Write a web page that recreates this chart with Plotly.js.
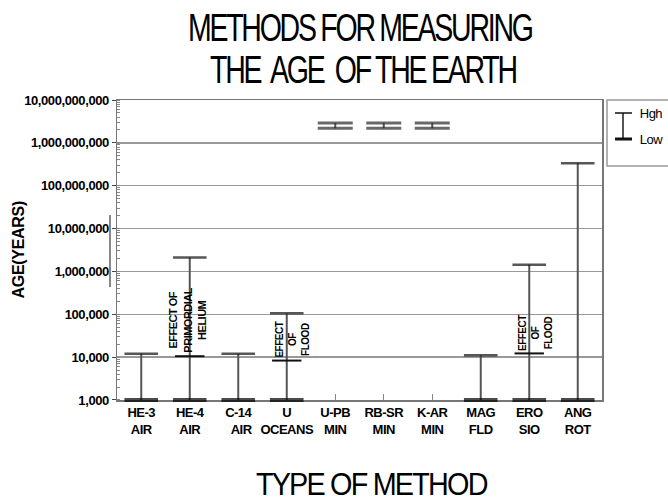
<!DOCTYPE html>
<html>
<head>
<meta charset="utf-8">
<script src="https://cdn.plot.ly/plotly-3.0.1.min.js"></script>
<style>
  html, body { margin: 0; padding: 0; background: #fff; }
  #chart { width: 668px; height: 501px; }
  .xtick text { letter-spacing: -0.5px; }
  .ytick text { letter-spacing: -0.4px; }
  /* condensed headline lettering */
  .annotation[data-index="0"] text,
  .annotation[data-index="1"] text {
    transform-box: fill-box; transform-origin: center;
    transform: scaleX(0.75); letter-spacing: -3px;
  }
  .annotation[data-index="2"] text {
    transform-box: fill-box; transform-origin: center;
    transform: scaleX(0.9); letter-spacing: -2px;
  }
  .annotation[data-index="3"] text { letter-spacing: -0.3px; }
  .annotation[data-index="4"] text,
  .annotation[data-index="5"] text,
  .annotation[data-index="6"] text,
  .annotation[data-index="7"] text,
  .annotation[data-index="8"] text { letter-spacing: -0.5px; }
</style>
</head>
<body>
<div id="chart"></div>
<script>
// Dating methods and the age ranges (years) each one gives
const methodKeys   = ['HE3', 'HE4', 'C14', 'U', 'UPB', 'RBSR', 'KAR', 'MAG', 'ERO', 'ANG'];
const methodLabels = ['HE-3<br>AIR', 'HE-4<br>AIR', 'C-14<br>  AIR', 'U<br>OCEANS', 'U-PB<br>MIN',
                      'RB-SR<br>MIN', 'K-AR<br>MIN', 'MAG<br>FLD', 'ERO<br>SIO', 'ANG<br>ROT'];
const lowAge  = [1000, 1000, 1000, 1000, 2.2e9, 2.2e9, 2.2e9, 1000, 1000, 1000];
const highAge = [12000, 2100000, 12000, 105000, 2.9e9, 2.9e9, 2.9e9, 11000, 1430000, 335000000];
// secondary marks: the estimate once the noted effect is taken into account
const midAge  = [null, 10500, null, 8300, null, null, null, null, 12200, null];

const notes = [
  { key: 'HE4', age: 72000, shift: -2, text: 'EFFECT OF<br>PRIMORDIAL<br>HELIUM', size: 11 },
  { key: 'U',   age: 26000, shift: 6,  text: 'EFFECT<br>OF<br>FLOOD', size: 10 },
  { key: 'ERO', age: 36000, shift: 6,  text: 'EFFECT<br>OF<br>FLOOD', size: 10 }
];

const isRadiometric = lowAge.map(v => v > 1e6);

// vertical stems from low to high
const stemX = [], stemY = [];
methodKeys.forEach((k, i) => { stemX.push(k, k, null); stemY.push(lowAge[i], highAge[i], null); });

const stems = {
  x: stemX, y: stemY, type: 'scatter', mode: 'lines',
  line: { color: '#555', width: 2 }, hoverinfo: 'skip'
};
const highCaps = {
  x: methodKeys, y: highAge, type: 'scatter', mode: 'markers',
  marker: {
    symbol: 'line-ew', size: isRadiometric.map(r => r ? 25 : 24),
    line: { color: isRadiometric.map(r => r ? '#2a2a2a' : '#111'), width: isRadiometric.map(r => r ? 3 : 2.5) }
  }
};
const lowCaps = {
  x: methodKeys, y: lowAge, type: 'scatter', mode: 'markers', cliponaxis: false,
  marker: {
    symbol: 'line-ew', size: isRadiometric.map(r => r ? 25 : 24),
    line: { color: isRadiometric.map(r => r ? '#2a2a2a' : '#000'), width: isRadiometric.map(r => r ? 3 : 4) }
  }
};
const midCaps = {
  x: methodKeys, y: midAge, type: 'scatter', mode: 'markers',
  marker: { symbol: 'line-ew', size: 21, line: { color: '#111', width: 2 } }
};

const px = v => (v - 117) / 485;   // pixel -> paper x
const py = v => (400 - v) / 300;   // pixel -> paper y
const base = { family: 'Liberation Sans, Arial, sans-serif', color: '#000' };

const annotations = [
  { text: 'METHODS FOR MEASURING', xref: 'paper', yref: 'paper', x: 0.5, y: py(28), xanchor: 'center', yanchor: 'middle',
    showarrow: false, font: Object.assign({}, base, { size: 38 }) },
  { text: 'THE\u00a0 AGE\u00a0 OF THE EARTH', xref: 'paper', yref: 'paper', x: px(363), y: py(70), xanchor: 'center', yanchor: 'middle',
    showarrow: false, font: Object.assign({}, base, { size: 38 }) },
  { text: 'TYPE OF METHOD', xref: 'paper', yref: 'paper', x: px(371), y: py(484), xanchor: 'center', yanchor: 'middle',
    showarrow: false, font: Object.assign({}, base, { size: 32 }) },
  { text: 'AGE(YEARS)', xref: 'paper', yref: 'paper', x: px(18), y: py(250), xanchor: 'center', yanchor: 'middle',
    textangle: -90, showarrow: false, font: Object.assign({}, base, { size: 16, weight: 'bold' }) },
  { text: 'Hgh', xref: 'paper', yref: 'paper', x: px(637), y: py(113), xanchor: 'left', yanchor: 'middle',
    showarrow: false, font: Object.assign({}, base, { size: 13 }) },
  { text: 'Low', xref: 'paper', yref: 'paper', x: px(637), y: py(139), xanchor: 'left', yanchor: 'middle',
    showarrow: false, font: Object.assign({}, base, { size: 13 }) }
];
notes.forEach(n => annotations.push({
  text: n.text, x: n.key, y: Math.log10(n.age), xref: 'x', yref: 'y', xanchor: 'center', yanchor: 'middle',
  xshift: n.shift, textangle: -90, showarrow: false, font: Object.assign({}, base, { size: n.size, weight: 'bold' })
}));

const shapes = [
  // key box with a high/low symbol
  { type: 'rect', xref: 'paper', yref: 'paper', x0: px(607), x1: px(680), y0: py(166), y1: py(100),
    line: { color: '#999', width: 1.5 } },
  { type: 'line', xref: 'paper', yref: 'paper', x0: px(623), x1: px(623), y0: py(113), y1: py(139),
    line: { color: '#555', width: 2 } },
  { type: 'line', xref: 'paper', yref: 'paper', x0: px(615), x1: px(632), y0: py(113), y1: py(113),
    line: { color: '#111', width: 1.5 } },
  { type: 'line', xref: 'paper', yref: 'paper', x0: px(615), x1: px(632), y0: py(139), y1: py(139),
    line: { color: '#111', width: 3 } },
  // stray mark beside the value axis
  { type: 'line', xref: 'paper', yref: 'paper', x0: px(110), x1: px(110), y0: py(215), y1: py(287),
    line: { color: '#888', width: 2 } }
];

const layout = {
  width: 668, height: 501,
  margin: { l: 117, r: 66, t: 100, b: 101 },
  paper_bgcolor: '#fff', plot_bgcolor: '#fff',
  showlegend: false,
  font: base,
  xaxis: {
    type: 'category', categoryorder: 'array', categoryarray: methodKeys,
    tickvals: methodKeys, ticktext: methodLabels,
    range: [-0.5, 9.5], layer: 'below traces',
    ticks: 'inside', ticklen: 6, tickcolor: '#888', tickwidth: 1,
    showline: true, linecolor: '#777', linewidth: 1.5, mirror: true,
    showgrid: false, zeroline: false,
    tickfont: Object.assign({}, base, { size: 13, weight: 'bold' })
  },
  yaxis: {
    // lower bound sits a hair under 1,000 so the caps on the floor are kept
    type: 'log', range: [2.999, 10.001], dtick: 1, tickformat: ',d', layer: 'below traces',
    ticks: 'outside', ticklen: 4, tickcolor: '#444',
    minor: { ticks: 'inside', ticklen: 3, tickcolor: '#888', dtick: 'D1', showgrid: false },
    showline: true, linecolor: '#777', linewidth: 1.5, mirror: true,
    showgrid: true, gridcolor: '#999', gridwidth: 1.3, zeroline: false,
    tickfont: Object.assign({}, base, { size: 13, weight: 'bold' })
  },
  annotations: annotations,
  shapes: shapes
};

Plotly.newPlot('chart', [stems, midCaps, highCaps, lowCaps], layout, { displayModeBar: false, staticPlot: true });
</script>
</body>
</html>
